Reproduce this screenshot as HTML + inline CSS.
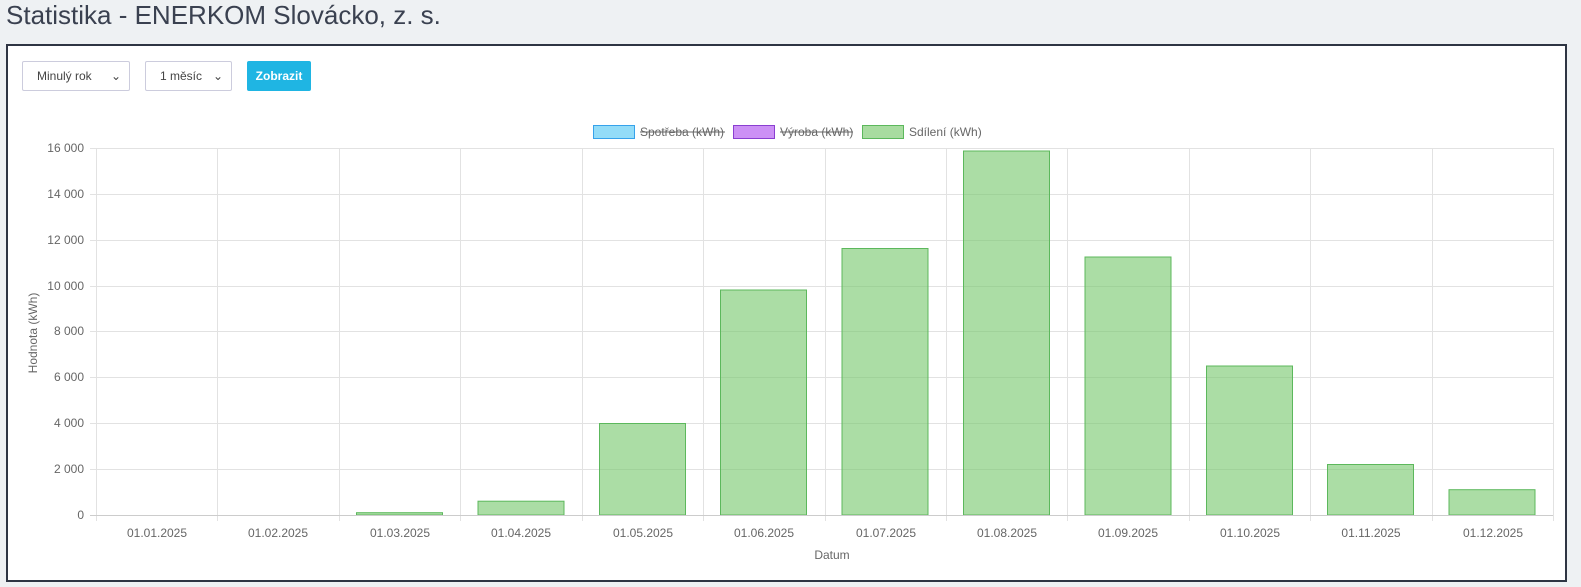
<!DOCTYPE html>
<html><head><meta charset="utf-8"><style>
body{margin:0;width:1581px;height:587px;background:#eef1f3;font-family:"Liberation Sans",sans-serif;position:relative;overflow:hidden}
.t{position:absolute;left:6px;top:0px;font-size:26px;color:#3a4150}
.f{position:absolute;left:6px;top:44px;width:1557px;height:534px;border:2px solid #2e3543;background:#fff}
.s{position:absolute;top:61px;height:28px;border:1px solid #ccd;border-radius:2px;font-size:12px;color:#444;line-height:28px;box-sizing:content-box}
.b{position:absolute;left:247px;top:61px;width:64px;height:30px;background:#1fb5e3;color:#fff;font-size:12px;line-height:30px;text-align:center;border-radius:2px;font-weight:bold}
svg{position:absolute;left:0;top:0}
</style></head><body>
<div class="t">Statistika - ENERKOM Slovácko, z. s.</div>
<div class="f"></div>
<div class="s" style="left:22px;width:106px"><span style="margin-left:14px">Minulý rok</span><span style="position:absolute;right:8px">⌄</span></div>
<div class="s" style="left:145px;width:85px"><span style="margin-left:14px">1 měsíc</span><span style="position:absolute;right:8px">⌄</span></div>
<div class="b">Zobrazit</div>
<svg width="1581" height="587" font-family="Liberation Sans, sans-serif" font-size="12" fill="#666">
<g stroke="#e2e2e2" stroke-width="1">
<line x1="90" x2="1553" y1="148.5" y2="148.5"/><line x1="90" x2="1553" y1="194.5" y2="194.5"/><line x1="90" x2="1553" y1="240.5" y2="240.5"/><line x1="90" x2="1553" y1="286.5" y2="286.5"/><line x1="90" x2="1553" y1="331.5" y2="331.5"/><line x1="90" x2="1553" y1="377.5" y2="377.5"/><line x1="90" x2="1553" y1="423.5" y2="423.5"/><line x1="90" x2="1553" y1="469.5" y2="469.5"/>
<line x1="96.5" x2="96.5" y1="148" y2="521"/><line x1="217.5" x2="217.5" y1="148" y2="521"/><line x1="339.5" x2="339.5" y1="148" y2="521"/><line x1="460.5" x2="460.5" y1="148" y2="521"/><line x1="582.5" x2="582.5" y1="148" y2="521"/><line x1="703.5" x2="703.5" y1="148" y2="521"/><line x1="825.5" x2="825.5" y1="148" y2="521"/><line x1="946.5" x2="946.5" y1="148" y2="521"/><line x1="1067.5" x2="1067.5" y1="148" y2="521"/><line x1="1189.5" x2="1189.5" y1="148" y2="521"/><line x1="1310.5" x2="1310.5" y1="148" y2="521"/><line x1="1432.5" x2="1432.5" y1="148" y2="521"/><line x1="1553.5" x2="1553.5" y1="148" y2="521"/>
</g>
<g fill="rgba(120,200,110,0.62)" stroke="#5cb85c" stroke-width="1">
<rect x="356.5" y="512.7" width="86" height="2.3"/>
<rect x="478" y="501.2" width="86" height="13.8"/>
<rect x="599.5" y="423.5" width="86" height="91.5"/>
<rect x="720.5" y="290" width="86" height="225"/>
<rect x="842" y="248.5" width="86" height="266.5"/>
<rect x="963.5" y="151" width="86" height="364"/>
<rect x="1085" y="257" width="86" height="258"/>
<rect x="1206.5" y="366" width="86" height="149"/>
<rect x="1327.5" y="464.5" width="86" height="50.5"/>
<rect x="1449" y="489.7" width="86" height="25.3"/>
</g>
<line x1="90" x2="1553" y1="515.5" y2="515.5" stroke="#ccc"/>
<g text-anchor="end">
<text x="84" y="152">16 000</text><text x="84" y="198">14 000</text><text x="84" y="244">12 000</text><text x="84" y="290">10 000</text><text x="84" y="335">8 000</text><text x="84" y="381">6 000</text><text x="84" y="427">4 000</text><text x="84" y="473">2 000</text><text x="84" y="519">0</text>
</g>
<g text-anchor="middle">
<text x="157" y="537">01.01.2025</text><text x="278" y="537">01.02.2025</text><text x="400" y="537">01.03.2025</text><text x="521" y="537">01.04.2025</text><text x="643" y="537">01.05.2025</text><text x="764" y="537">01.06.2025</text><text x="886" y="537">01.07.2025</text><text x="1007" y="537">01.08.2025</text><text x="1128" y="537">01.09.2025</text><text x="1250" y="537">01.10.2025</text><text x="1371" y="537">01.11.2025</text><text x="1493" y="537">01.12.2025</text>
<text x="832" y="559">Datum</text>
<text transform="translate(37,333) rotate(-90)">Hodnota (kWh)</text>
</g>
<rect x="593.5" y="125.5" width="41" height="13" fill="#93dcf8" stroke="#36a2eb"/>
<text x="640" y="136">Spotřeba (kWh)</text><line x1="640" x2="725" y1="132" y2="132" stroke="#666"/>
<rect x="733.5" y="125.5" width="41" height="13" fill="#cc90f5" stroke="#8a3fd1"/>
<text x="780" y="136">Výroba (kWh)</text><line x1="780" x2="853" y1="132" y2="132" stroke="#666"/>
<rect x="862.5" y="125.5" width="41" height="13" fill="#a8dca0" stroke="#5cb85c"/>
<text x="909" y="136">Sdílení (kWh)</text>
</svg>
</body></html>
